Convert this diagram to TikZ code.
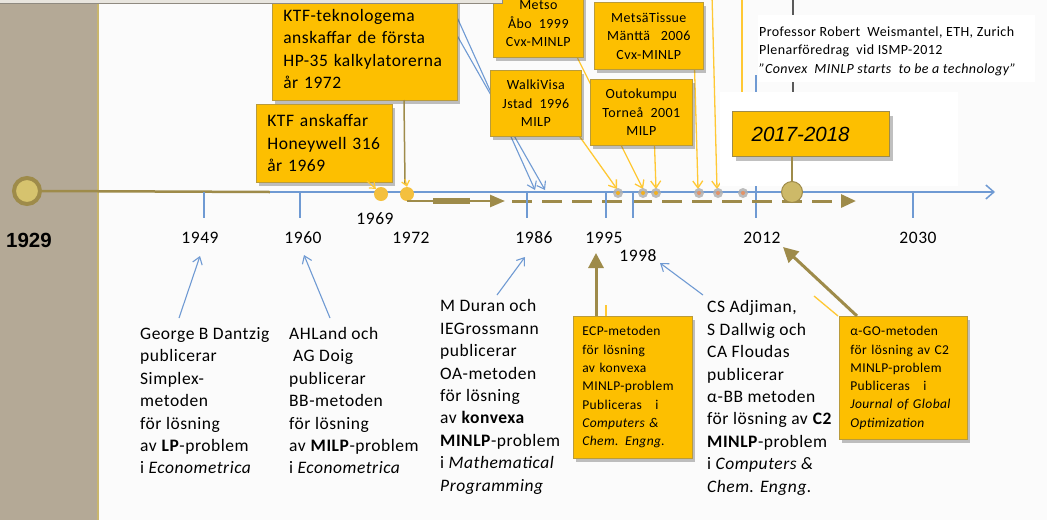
\documentclass[tikz,border=0pt]{standalone}
\usepackage{fontspec}
\setmainfont{Carlito}[LetterSpace=3]
\newfontfamily\arialfont{Liberation Sans}
\usetikzlibrary{arrows.meta,shadows}

\definecolor{bgc}{HTML}{FBFBFB}
\definecolor{panel}{HTML}{B4A996}
\definecolor{panelline}{HTML}{C9B66E}
\definecolor{stripfill}{HTML}{E8E5DE}
\definecolor{stripedge}{HTML}{8F8A80}
\definecolor{boxgold}{HTML}{FDBF00}
\definecolor{boxedge}{HTML}{B99B3C}
\definecolor{khaki}{HTML}{9E8B4A}
\definecolor{khakilight}{HTML}{D6C36E}
\definecolor{circlefill}{HTML}{CDB968}
\definecolor{axisblue}{HTML}{6F9AD3}
\definecolor{pointer}{HTML}{FFC834}
\definecolor{dotgold}{HTML}{F4C03E}
\definecolor{dotcore}{HTML}{F2B020}
\definecolor{dotsalmon}{HTML}{E39368}
\definecolor{guide}{HTML}{5A5A5A}

\tikzset{
  card/.style={fill=boxgold, draw=boxedge, line width=0.7, inner ysep=0,
    drop shadow={shadow xshift=3pt, shadow yshift=-4pt, opacity=0.35, fill=black!70}},
  bigtext/.style={font=\fontsize{17.5}{22.4}\selectfont},
  midtext/.style={font=\fontsize{14}{18.5}\selectfont},
  smalltext/.style={font=\fontsize{13.5}{18.3}\selectfont},
  note/.style={bigtext, anchor=north west, inner sep=0, align=left},
  year/.style={bigtext, inner sep=0},
  blueptr/.style={axisblue, line width=1.1, -{Straight Barb[length=7pt,width=10pt]}},
  yellowptr/.style={pointer, line width=1.3, -{Straight Barb[length=7pt,width=10pt]}},
  khakiptr/.style={khaki, line width=3, -{Triangle[length=15pt,width=15pt]}},
  tickmark/.style={axisblue, line width=1.2},
  minidot/.style={circle, fill=gray!60, fill opacity=0.85, inner sep=0, minimum size=10pt},
  dotcentre/.style={circle, inner sep=0, minimum size=4pt},
}

\begin{document}
\begin{tikzpicture}[x=1pt, y=-1pt]
\useasboundingbox (0,0) rectangle (1047,520);
\fill[bgc] (0,0) rectangle (1047,520);

% left side panel
\fill[panel] (0,0) rectangle (98,520);
\draw[panelline, line width=1.2] (98,0) -- (98,520);

% blue guide lines running down to 1986 (start hidden behind the cards)
\coordinate (bA) at (447,-5);
\coordinate (bB) at (434,-5);
\coordinate (bAe) at (535,190);
\coordinate (bBe) at (545,190);
\draw[blueptr] (bA) -- (bAe);
\draw[blueptr] (bB) -- (bBe);

% yellow pointers from the industry cards to the axis
\coordinate (pw) at (565,116);  \coordinate (pwe) at (617,189);
\coordinate (pm) at (570,43);   \coordinate (pme) at (643,189);
\coordinate (po) at (654,130);  \coordinate (poe) at (656,189);
\coordinate (pt) at (694,50);   \coordinate (pte) at (698,189);
\coordinate (px) at (712,-5);   \coordinate (pxe) at (717,189);
\coordinate (py) at (742,-5);   \coordinate (pye) at (742,120);
\draw[yellowptr] (pw) -- (pwe);
\draw[yellowptr] (pm) -- (pme);
\draw[yellowptr] (po) -- (poe);
\draw[yellowptr] (pt) -- (pte);
\draw[yellowptr] (px) -- (pxe);
\draw[pointer, line width=1.3] (py) -- (pye);

% grey guide to the 2017-2018 card and the long 2012 tick
\coordinate (gtop) at (793,-5);
\coordinate (gbot) at (793,111);
\draw[guide, line width=1.5] (gtop) -- (gbot);
\coordinate (t12top) at (756,75);
\coordinate (t12bot) at (756,218);
\draw[tickmark] (t12top) -- (t12bot);

% white backgrounds of the quote and of the 2017-2018 card
\fill[white] (758,15) rectangle (1035,82);
\fill[white] (720,92) rectangle (958,186);

% cards above the axis
\node[card, bigtext, anchor=north west, minimum width=185, minimum height=103,
      text width=163, inner xsep=11, align=left] (ktf) at (272,-3)
  {KTF-teknologema\\anskaffar de första\\HP-35 kalkylatorerna\\år 1972};
\node[card, bigtext, anchor=north west, minimum width=136, minimum height=78,
      text width=114, inner xsep=11, align=left] (honey) at (256,104)
  {KTF anskaffar\\Honeywell 316\\år 1969};
\node[card, midtext, anchor=north west, minimum width=90, minimum height=67,
      align=center] (metso) at (493,-10)
  {Metso\\Åbo\ \ 1999\\Cvx-MINLP};
\node[card, midtext, anchor=north west, minimum width=91, minimum height=66,
      align=center] (walki) at (490,70)
  {WalkiVisa\\Jstad\ \ 1996\\MILP};
\node[card, midtext, anchor=north west, minimum width=102, minimum height=66,
      align=center] (outo) at (590,79)
  {Outokumpu\\Torneå\ \ 2001\\MILP};
\node[card, midtext, anchor=north west, minimum width=109, minimum height=67,
      align=center] (tissue) at (594,2)
  {MetsäTissue\\Mänttä\ \ \ 2006\\Cvx-MINLP};
\node[card, draw=khaki, line width=1.2, anchor=north west, minimum width=157,
      minimum height=45, text width=119, inner xsep=19, align=left,
      font=\arialfont\itshape\fontsize{20.5}{24}\selectfont] (b2017) at (732,111)
  {2017-2018};

% header strip
\filldraw[fill=stripfill, draw=stripedge, line width=0.8] (-2,-10) rectangle (502,3.5);

% quote
\node[anchor=north west, inner sep=0, align=left, midtext] (quote) at (759,23)
  {\strut Professor\ Robert\ \ Weismantel,\ ETH, Zurich\\
   Plenarföredrag\ \ vid\ ISMP-2012\\
   \textit{"Convex\ \ MINLP starts\ \ to be a technology"}};

% axis and its lead from 1929
\coordinate (axL) at (270,192);
\coordinate (axR) at (995,192);
\node[circle, draw=khaki, line width=4, fill=khakilight, minimum size=26, inner sep=0]
  (c1929) at (27,191) {};
\draw[khaki, line width=2.5] (c1929.east) -- (axL);
\draw[axisblue, line width=1.5, -{Straight Barb[length=8pt,width=14pt]}] (axL) -- (axR);

% 1969 and 1972 events
\node[circle, fill=dotgold, minimum size=14, inner sep=0] (d1969) at (381,194) {};
\node[circle, fill=dotgold, minimum size=14, inner sep=0] (d1972) at (407,194) {};
\coordinate (k72) at (404,100);
\coordinate (k72e) at (405,184);
\draw[khaki, line width=1.5] (k72) -- (k72e);
\coordinate (h69) at (367,181);
\draw[yellowptr, line width=1.2, -{Straight Barb[length=5pt,width=8pt]}] (h69) -- (d1969.north west);
\coordinate (y72) at (405,179);
\draw[yellowptr, line width=1.2, -{Straight Barb[length=5pt,width=8pt]}] (y72) -- (d1972.north);

% trail from 1972 onwards
\coordinate (trS) at (407,201);
\coordinate (trE) at (505,201);
\draw[khaki, line width=2.5, -{Triangle[length=15pt,width=12pt]}] (trS) -- (trE);
\fill[khaki] (433,198) rectangle (470,204);
\coordinate (dsS) at (512,201);
\coordinate (dsE) at (856,201);
\draw[khaki, line width=3, dash pattern=on 20pt off 10pt,
      -{Triangle[length=15pt,width=13pt]}] (dsS) -- (dsE);

% ticks
\draw[tickmark] (204,192) -- (204,218);
\draw[tickmark] (300,192) -- (300,218);
\draw[tickmark] (527,192) -- (527,218);
\draw[tickmark] (606,192) -- (606,218);
\draw[tickmark] (633,192) -- (633,218);
\draw[tickmark] (913,192) -- (913,218);

% industry events on the axis
\foreach \x/\c [count=\i] in {618/dotcore, 643/dotcore, 656/dotcore,
                             699/dotsalmon, 718/dotsalmon, 743/dotsalmon} {
  \node[minidot] (ev\i) at (\x,193) {};
  \node[dotcentre, fill=\c] at (ev\i) {};
}

% 2017-2018 marker
\node[circle, fill=circlefill, draw=khaki, line width=1, minimum size=21, inner sep=0]
  (big) at (792,192) {};
\draw[khaki, line width=2] (big |- b2017.south) -- (big.north);

% year labels
\node[font=\arialfont\bfseries\fontsize{20.5}{24}\selectfont, inner sep=0] (y1929) at (29,240) {1929};
\node[year] (y1949) at (200,238) {1949};
\node[year] (y1960) at (303,238) {1960};
\node[year] (y1969) at (375,219) {1969};
\node[year] (y1972) at (411,238) {1972};
\node[year] (y1986) at (534,238) {1986};
\node[year] (y1995) at (604,238) {1995};
\node[year] (y1998) at (638,256) {1998};
\node[year] (y2012) at (762,238) {2012};
\node[year] (y2030) at (918,238) {2030};

% publications below the axis
\node[note] (dantzig) at (140,323.6)
  {\strut George B Dantzig\\publicerar\\Simplex-\\metoden\\för lösning\\av \textbf{LP}-problem\\i \textit{Econometrica}};
\node[note] (land) at (289,323.6)
  {\strut AHLand och\\\hspace{4pt}AG Doig\\publicerar\\BB-metoden\\för lösning\\av \textbf{MILP}-problem\\i \textit{Econometrica}};
\node[note] (duran) at (440,296)
  {\strut M Duran och\\IEGrossmann\\publicerar\\OA-metoden\\för lösning\\av \textbf{konvexa}\\\textbf{MINLP}-problem\\i \textit{Mathematical}\\\textit{Programming}};
\node[note] (adjiman) at (707,297)
  {\strut CS Adjiman,\\S Dallwig och\\CA Floudas\\publicerar\\α-BB metoden\\för lösning av \textbf{C2}\\\textbf{MINLP}-problem\\i \textit{Computers \&}\\\textit{Chem. Engng.}};

\node[card, smalltext, anchor=north west, minimum width=119, minimum height=142,
      text width=101, inner xsep=9, align=left] (ecp) at (573,316)
  {ECP-metoden\\för lösning\\av konvexa\\MINLP-problem\\Publiceras\ \ \ i\\\textit{Computers \&}\\\textit{Chem. Engng.}};
\node[card, smalltext, anchor=north west, minimum width=128, minimum height=123,
      text width=106, inner xsep=11, align=left] (ago) at (839,316)
  {α-GO-metoden\\för lösning av C2\\MINLP-problem\\Publiceras\ \ \ i\\\textit{Journal of Global}\\\textit{Optimization}};

% arrows from the publications to their years
\coordinate (aD) at (179,318);  \coordinate (aDe) at (200,256);
\coordinate (aL) at (330,318);  \coordinate (aLe) at (304,255);
\coordinate (aU) at (497,295);  \coordinate (aUe) at (525,257);
\coordinate (aA) at (703,295);  \coordinate (aAe) at (660,263);
\draw[blueptr] (aD) -- (aDe);
\draw[blueptr] (aL) -- (aLe);
\draw[blueptr] (aU) -- (aUe);
\draw[blueptr] (aA) -- (aAe);
\coordinate (eT) at (596,253);
\draw[khakiptr] (ecp.north west -| eT) -- (eT);
\coordinate (gS) at (857,316);
\coordinate (gT) at (783,247);
\draw[khakiptr] (gS) -- (gT);

% short yellow stubs at the card tops
\coordinate (s1) at (606,305);
\draw[pointer, line width=1.3] (s1) -- (s1 |- ecp.north);
\coordinate (s2) at (814,296);
\coordinate (s2e) at (838,316);
\draw[pointer, line width=1.3] (s2) -- (s2e);
\end{tikzpicture}
\end{document}
